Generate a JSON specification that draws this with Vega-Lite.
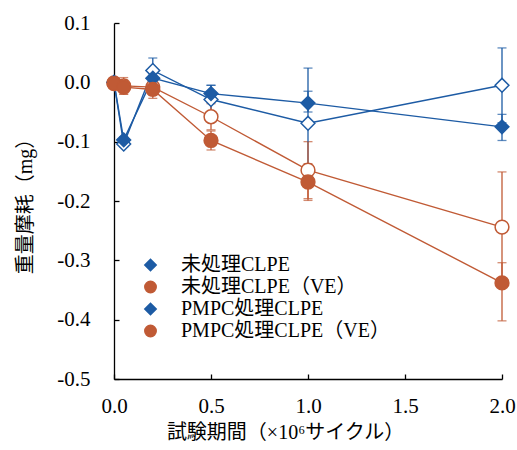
{
  "$schema": "https://vega.github.io/schema/vega-lite/v6.json",
  "width": 388,
  "height": 356,
  "autosize": {"type": "none"},
  "padding": {"left": 114, "top": 23, "right": 15, "bottom": 71},
  "background": "white",
  "config": {
    "view": {"stroke": null},
    "font": "Liberation Serif, Noto Sans CJK JP",
    "axis": {
      "domainColor": "black",
      "domainWidth": 1.3,
      "tickColor": "black",
      "tickWidth": 1.3,
      "tickSize": -5,
      "grid": false,
      "labelFlush": false,
      "labelFont": "Liberation Serif",
      "labelFontSize": 21,
      "labelColor": "black",
      "titleFont": "Liberation Serif, Noto Sans CJK JP",
      "titleFontSize": 20,
      "titleFontWeight": "normal",
      "titleColor": "black"
    },
    "legend": {
      "labelFont": "Liberation Serif, Noto Sans CJK JP",
      "labelFontSize": 20,
      "labelColor": "black",
      "labelLimit": 400,
      "padding": 0,
      "symbolSize": 130,
      "symbolStrokeWidth": 1.5,
      "symbolOpacity": 1,
      "labelOffset": 20.5,
      "rowPadding": 2,
      "title": null,
      "orient": "none",
      "legendX": 26.5,
      "legendY": 232
    }
  },
  "data": {
    "values": [
      {"s": "未処理CLPE", "x": 0, "y": 0.0, "lo": 0.0, "hi": 0.0},
      {"s": "未処理CLPE", "x": 0.05, "y": -0.104, "lo": -0.109, "hi": -0.099},
      {"s": "未処理CLPE", "x": 0.2, "y": 0.020, "lo": -0.001, "hi": 0.041},
      {"s": "未処理CLPE", "x": 0.5, "y": -0.029, "lo": -0.053, "hi": -0.005},
      {"s": "未処理CLPE", "x": 1.0, "y": -0.069, "lo": -0.162, "hi": 0.024},
      {"s": "未処理CLPE", "x": 2.0, "y": -0.005, "lo": -0.068, "hi": 0.058},
      {"s": "未処理CLPE（VE）", "x": 0, "y": -0.001, "lo": -0.001, "hi": -0.001},
      {"s": "未処理CLPE（VE）", "x": 0.05, "y": -0.006, "lo": -0.020, "hi": 0.008},
      {"s": "未処理CLPE（VE）", "x": 0.2, "y": -0.008, "lo": -0.022, "hi": 0.006},
      {"s": "未処理CLPE（VE）", "x": 0.5, "y": -0.058, "lo": -0.080, "hi": -0.036},
      {"s": "未処理CLPE（VE）", "x": 1.0, "y": -0.148, "lo": -0.196, "hi": -0.100},
      {"s": "未処理CLPE（VE）", "x": 2.0, "y": -0.244, "lo": -0.337, "hi": -0.151},
      {"s": "PMPC処理CLPE", "x": 0, "y": 0.0, "lo": 0.0, "hi": 0.0},
      {"s": "PMPC処理CLPE", "x": 0.05, "y": -0.097, "lo": -0.102, "hi": -0.092},
      {"s": "PMPC処理CLPE", "x": 0.2, "y": 0.007, "lo": 0.002, "hi": 0.012},
      {"s": "PMPC処理CLPE", "x": 0.5, "y": -0.019, "lo": -0.033, "hi": -0.005},
      {"s": "PMPC処理CLPE", "x": 1.0, "y": -0.035, "lo": -0.050, "hi": -0.015},
      {"s": "PMPC処理CLPE", "x": 2.0, "y": -0.075, "lo": -0.098, "hi": -0.054},
      {"s": "PMPC処理CLPE（VE）", "x": 0, "y": -0.002, "lo": -0.002, "hi": -0.002},
      {"s": "PMPC処理CLPE（VE）", "x": 0.05, "y": -0.008, "lo": -0.020, "hi": 0.004},
      {"s": "PMPC処理CLPE（VE）", "x": 0.2, "y": -0.012, "lo": -0.027, "hi": 0.003},
      {"s": "PMPC処理CLPE（VE）", "x": 0.5, "y": -0.098, "lo": -0.114, "hi": -0.082},
      {"s": "PMPC処理CLPE（VE）", "x": 1.0, "y": -0.168, "lo": -0.199, "hi": -0.137},
      {"s": "PMPC処理CLPE（VE）", "x": 2.0, "y": -0.338, "lo": -0.402, "hi": -0.304}
    ]
  },
  "encoding": {
    "x": {
      "field": "x", "type": "quantitative",
      "scale": {"domain": [0, 2], "nice": false, "zero": false},
      "axis": {
        "values": [0, 0.5, 1, 1.5, 2],
        "format": ".1f",
        "labelPadding": 21,
        "title": "試験期間（×10⁶サイクル）",
        "titleX": 171, "titleY": 53,
        "titleAlign": "center", "titleBaseline": "middle"
      }
    },
    "color": {
      "field": "s", "type": "nominal",
      "scale": {"domain": ["未処理CLPE", "未処理CLPE（VE）", "PMPC処理CLPE", "PMPC処理CLPE（VE）"], "range": ["#1d5ba4", "#c05a35", "#1d5ba4", "#c05a35"]}
    }
  },
  "layer": [
    {
      "mark": {"type": "line", "strokeWidth": 1.4},
      "encoding": {
        "y": {
          "field": "y", "type": "quantitative",
          "title": "重量摩耗（mg）",
          "scale": {"domain": [-0.5, 0.1], "nice": false, "zero": false},
          "axis": {
            "values": [0.1, 0, -0.1, -0.2, -0.3, -0.4, -0.5],
            "labelExpr": "replace(format(datum.value, '.1f'), '−', '-')",
            "labelPadding": 29,
            "titleX": -89, "titleY": 178,
            "titleAngle": 270,
            "titleAlign": "center", "titleBaseline": "middle"
          }
        },
        "detail": {"field": "s"},
        "order": {"field": "x", "type": "quantitative"}
      }
    },
    {
      "mark": {"type": "errorbar", "ticks": {"size": 9, "thickness": 1.3}, "rule": {"strokeWidth": 1.3}},
      "encoding": {
        "y": {"field": "lo", "type": "quantitative", "title": "重量摩耗（mg）"},
        "y2": {"field": "hi"}
      }
    },
    {
      "mark": {"type": "point", "filled": false, "opacity": 1, "fillOpacity": 1, "strokeWidth": 1.5, "size": 190},
      "encoding": {
        "y": {"field": "y", "type": "quantitative", "title": "重量摩耗（mg）"},
        "fill": {
          "field": "s", "type": "nominal",
          "scale": {"domain": ["未処理CLPE", "未処理CLPE（VE）", "PMPC処理CLPE", "PMPC処理CLPE（VE）"], "range": ["white", "white", "#1d5ba4", "#c05a35"]}
        },
        "shape": {
          "field": "s", "type": "nominal",
          "scale": {"domain": ["未処理CLPE", "未処理CLPE（VE）", "PMPC処理CLPE", "PMPC処理CLPE（VE）"], "range": ["diamond", "circle", "diamond", "circle"]}
        }
      }
    }
  ]
}
